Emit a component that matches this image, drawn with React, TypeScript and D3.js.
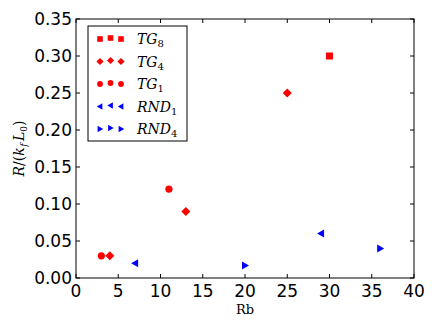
import React from 'react';
import * as d3 from 'd3';

// series values (Rb, R/(k_f L_0))
const tg8Rb = [30];
const tg8R = [0.3];
const tg4Rb = [4, 13, 25];
const tg4R = [0.03, 0.09, 0.25];
const tg1Rb = [3, 11];
const tg1R = [0.03, 0.12];
const rnd1Rb = [7, 29];
const rnd1R = [0.02, 0.06];
const rnd4Rb = [20, 36];
const rnd4R = [0.017, 0.04];

const xTicks = [0, 5, 10, 15, 20, 25, 30, 35, 40];
const yTicks = [0, 0.05, 0.1, 0.15, 0.2, 0.25, 0.3, 0.35];

type Shape = 'square' | 'diamond' | 'circle' | 'left' | 'right';

const seriesList: { name: string; sub: string; shape: Shape; color: string; xs: number[]; ys: number[] }[] = [
  { name: 'TG', sub: '8', shape: 'square', color: '#ff0000', xs: tg8Rb, ys: tg8R },
  { name: 'TG', sub: '4', shape: 'diamond', color: '#ff0000', xs: tg4Rb, ys: tg4R },
  { name: 'TG', sub: '1', shape: 'circle', color: '#ff0000', xs: tg1Rb, ys: tg1R },
  { name: 'RND', sub: '1', shape: 'left', color: '#0000ff', xs: rnd1Rb, ys: rnd1R },
  { name: 'RND', sub: '4', shape: 'right', color: '#0000ff', xs: rnd4Rb, ys: rnd4R },
];

const W = 436;
const H = 327;
const m = { left: 76, right: 22, top: 19, bottom: 49 };

const Marker = ({ shape, color, x, y, k = 1 }: { shape: Shape; color: string; x: number; y: number; k?: number }) => {
  const t = `translate(${x},${y}) scale(${k})`;
  if (shape === 'square') return <rect transform={t} x={-3.5} y={-3.5} width={7} height={7} fill={color} />;
  if (shape === 'circle') return <circle transform={t} r={3.6} fill={color} />;
  if (shape === 'diamond') return <path transform={t} d="M0,-4.5L4.5,0L0,4.5L-4.5,0Z" fill={color} />;
  if (shape === 'left') return <path transform={t} d="M-4,0L3,-4L3,4Z" fill={color} />;
  return <path transform={t} d="M4,0L-3,-4L-3,4Z" fill={color} />;
};

export default function App() {
  const x = d3.scaleLinear().domain([0, 40]).range([m.left, W - m.right]);
  const y = d3.scaleLinear().domain([0, 0.35]).range([H - m.bottom, m.top]);
  const [x0, x1] = x.range();
  const [y0, y1] = y.range();
  const tickFont = 'DejaVu Sans, sans-serif';
  const serif = 'DejaVu Serif, Liberation Serif, serif';

  const lx = 88;
  const ly = 26;
  const lw = 99;
  const lh = 115;
  const rowH = 22.5;

  return (
    <svg width={W} height={H} style={{ position: 'absolute', left: 0, top: 0, background: '#fff' }}>
      {/* ticks, inside, all four sides */}
      {xTicks.map((t) => (
        <g key={'x' + t}>
          <line x1={x(t)} x2={x(t)} y1={y0} y2={y0 - 4} stroke="#000" />
          <line x1={x(t)} x2={x(t)} y1={y1} y2={y1 + 4} stroke="#000" />
          <text x={x(t)} y={y0 + 19} textAnchor="middle" fontFamily={tickFont} fontSize={17}>
            {t}
          </text>
        </g>
      ))}
      {yTicks.map((t) => (
        <g key={'y' + t}>
          <line x1={x0} x2={x0 + 4} y1={y(t)} y2={y(t)} stroke="#000" />
          <line x1={x1} x2={x1 - 4} y1={y(t)} y2={y(t)} stroke="#000" />
          <text x={x0 - 4} y={y(t) + 6} textAnchor="end" fontFamily={tickFont} fontSize={17}>
            {d3.format('.2f')(t)}
          </text>
        </g>
      ))}
      <rect x={x0} y={y1} width={x1 - x0} height={y0 - y1} fill="none" stroke="#000" strokeWidth={1} />

      {seriesList.map((s) =>
        s.xs.map((v, i) => <Marker key={s.shape + i} shape={s.shape} color={s.color} x={x(v)} y={y(s.ys[i])} />)
      )}

      {/* legend */}
      <rect x={lx} y={ly} width={lw} height={lh} fill="#fff" stroke="#000" strokeWidth={1} />
      {seriesList.map((s, i) => {
        const cy = ly + 13 + i * rowH;
        return (
          <g key={'l' + i}>
            {[100, 110.5, 121].map((mx, j) => (
              <Marker key={j} k={0.8} shape={s.shape} color={s.color} x={mx} y={cy + (j === 1 ? -1 : 0)} />
            ))}
            <text x={137} y={cy + 5} fontFamily={serif} fontSize={14}>
              <tspan fontStyle="italic">{s.name}</tspan>
              <tspan fontSize={10} dy={3}>{s.sub}</tspan>
            </text>
          </g>
        );
      })}

      {/* axis labels */}
      <text x={(x0 + x1) / 2} y={314} textAnchor="middle" fontFamily={serif} fontSize={13}>
        Rb
      </text>
      <text transform={`translate(24,${(y0 + y1) / 2}) rotate(-90)`} textAnchor="middle" fontFamily={serif} fontSize={14}>
        <tspan fontStyle="italic">R</tspan>
        <tspan>/(</tspan>
        <tspan fontStyle="italic">k</tspan>
        <tspan fontStyle="italic" fontSize={9} dy={3} dx={0.5}>f</tspan>
        <tspan fontStyle="italic" dy={-3} dx={2.5}>L</tspan>
        <tspan fontSize={9} dy={3}>0</tspan>
        <tspan dy={-3}>)</tspan>
      </text>
    </svg>
  );
}
